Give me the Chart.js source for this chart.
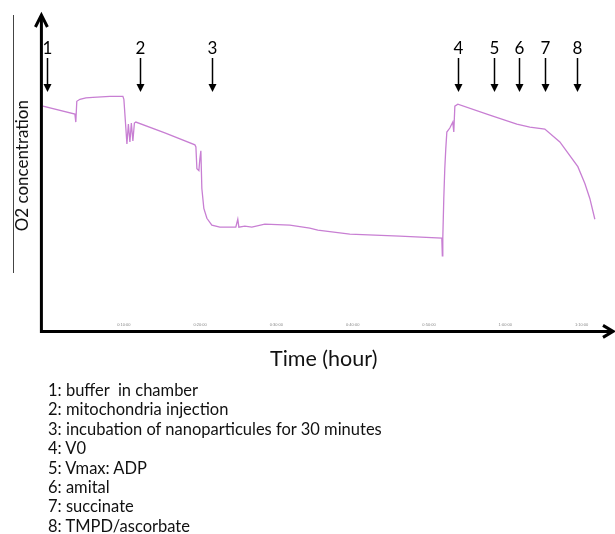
<!DOCTYPE html>
<html>
<head>
<meta charset="utf-8">
<script src="https://cdn.jsdelivr.net/npm/chart.js@4"></script>
<style>
    body { margin: 0; background: #fff; }
    .wrap { position: relative; width: 615px; height: 534px; }
    .notes {
        position: absolute;
        left: 48px;
        top: 381px;
        font-family: Lato, "Open Sans", sans-serif;
        font-size: 16.5px;
        line-height: 19.4px;
        color: #111;
        white-space: pre;
    }
</style>
</head>
<body>
<div class="wrap">
    <canvas id="o2Chart"></canvas>
    <div class="notes" id="notes"></div>
</div>
<script>
// O2 trace (time in minutes, O2 in arbitrary units)
const timeMin = [
    -0.6, 3.59, 3.71, 3.84, 4.25, 5.03, 5.95, 8.18, 9.88, 10.01,
    10.41, 10.6, 10.8, 10.99, 11.19, 11.39, 11.58, 15.38, 19.32, 19.45,
    19.58, 19.84, 19.97, 20.1, 20.23, 20.49, 20.89, 21.54, 22.59, 24.68,
    24.94, 25.08, 25.86, 26.78, 28.48, 31.76, 34.38, 35.43, 39.62, 46.17,
    51.68, 51.75, 51.81, 51.94, 52.07, 52.2, 52.34, 52.73, 53.12, 53.25,
    53.39, 53.78, 57.97, 61.51, 63.22, 65.18, 67.15, 69.51, 70.43, 71.08,
    71.74
];
const o2 = [
    215, 207, 199, 220, 222, 223.5, 224, 225, 225, 222,
    177, 197, 179, 198, 180, 198, 199, 188, 176, 174,
    152, 150, 162, 170, 132, 112, 102, 95, 93, 93,
    101, 93, 94, 93, 96, 95, 92, 90, 86, 84,
    82, 64, 82, 122, 152, 172, 189, 193, 199, 189,
    215, 217, 206, 197, 194, 192, 179, 154, 137, 122,
    101
];

// injections (arrows)
const eventNumbers = ['1', '2', '3', '4', '5', '6', '7', '8'];
const eventTimes = [-0.08, 12.11, 21.55, 53.8, 58.5, 61.8, 65.21, 69.4];
const eventLabels = [
    'buffer  in chamber',
    'mitochondria injection',
    'incubation of nanoparticules for 30 minutes',
    'V0',
    'Vmax: ADP',
    'amital',
    'succinate',
    'TMPD/ascorbate'
];

// x tick labels
const tickMinutes = [10, 20, 30, 40, 50, 60, 70];

const traceColor = '#c87fd3';

function fmtTime(m) {
    const h = Math.floor(m / 60);
    const mm = String(m % 60).padStart(2, '0');
    return h + ':' + mm + ':00';
}

// arrows over the trace + hand drawn axes
const overlayPlugin = {
    id: 'overlay',
    afterDraw(chart) {
        const ctx = chart.ctx;
        const x = chart.scales.x;
        const area = chart.chartArea;
        const axisY = area.bottom + 12;
        const axisX = area.left;

        ctx.save();
        ctx.lineCap = 'butt';

        // thin frame line at far left
        ctx.lineWidth = 1;
        ctx.strokeStyle = '#444';
        ctx.beginPath();
        ctx.moveTo(13.5, 15);
        ctx.lineTo(13.5, 273);
        ctx.stroke();

        // axes
        ctx.strokeStyle = '#000';
        ctx.fillStyle = '#000';
        ctx.lineWidth = 3;
        ctx.beginPath();
        ctx.moveTo(axisX, axisY + 1.5);
        ctx.lineTo(axisX, 16);
        ctx.moveTo(axisX - 1.5, axisY);
        ctx.lineTo(612, axisY);
        ctx.stroke();

        ctx.lineJoin = 'miter';
        ctx.beginPath();
        ctx.moveTo(axisX - 6, 27);
        ctx.lineTo(axisX, 15);
        ctx.lineTo(axisX + 6, 27);
        ctx.stroke();
        ctx.beginPath();
        ctx.moveTo(603, axisY - 6);
        ctx.lineTo(613, axisY);
        ctx.lineTo(603, axisY + 6);
        ctx.stroke();

        // event arrows
        ctx.font = '17px Lato, "Open Sans", sans-serif';
        ctx.textAlign = 'center';
        ctx.textBaseline = 'middle';
        eventTimes.forEach((t, i) => {
            const px = Math.round(x.getPixelForValue(t)) + 0.5;
            ctx.fillText(eventNumbers[i], px, 49);
            ctx.lineWidth = 1.5;
            ctx.beginPath();
            ctx.moveTo(px, 58);
            ctx.lineTo(px, 85);
            ctx.stroke();
            ctx.beginPath();
            ctx.moveTo(px - 4, 84);
            ctx.lineTo(px + 4, 84);
            ctx.lineTo(px, 92);
            ctx.closePath();
            ctx.fill();
        });
        ctx.restore();
    }
};

document.addEventListener('DOMContentLoaded', function() {
    document.getElementById('notes').textContent =
        eventLabels.map((s, i) => eventNumbers[i] + ': ' + s).join('\n');

    const points = timeMin.map((t, i) => ({ x: t, y: o2[i] }));
    const ctx = document.getElementById('o2Chart').getContext('2d');
    new Chart(ctx, {
        type: 'line',
        data: {
            datasets: [{
                label: 'O2',
                data: points,
                borderColor: traceColor,
                borderWidth: 1.3,
                pointRadius: 0,
                tension: 0,
                fill: false
            }]
        },
        options: {
            responsive: true,
            maintainAspectRatio: false,
            animation: false,
            layout: {
                padding: { left: 5, right: 9, top: 12, bottom: 162 }
            },
            plugins: {
                legend: { display: false },
                tooltip: { enabled: false }
            },
            scales: {
                x: {
                    type: 'linear',
                    min: -0.8,
                    max: 73.2,
                    grid: { display: false, drawTicks: false },
                    border: { display: false },
                    afterBuildTicks: scale => {
                        scale.ticks = tickMinutes.map(v => ({ value: v }));
                    },
                    ticks: {
                        autoSkip: false,
                        maxRotation: 0,
                        padding: 3,
                        color: '#888',
                        font: { size: 4 },
                        callback: v => fmtTime(v)
                    },
                    title: {
                        display: true,
                        text: 'Time (hour)',
                        color: '#111',
                        font: { family: 'Lato, "Open Sans", sans-serif', size: 21.5 },
                        padding: { top: 16, bottom: 0 }
                    }
                },
                y: {
                    min: 0,
                    max: 310,
                    grid: { display: false, drawTicks: false },
                    border: { display: false },
                    ticks: { display: false },
                    title: {
                        display: true,
                        text: 'O2 concentration',
                        color: '#111',
                        font: { family: 'Lato, "Open Sans", sans-serif', size: 17 },
                        padding: { top: 7, bottom: 9 }
                    }
                }
            }
        },
        plugins: [overlayPlugin]
    });
});
</script>
</body>
</html>
